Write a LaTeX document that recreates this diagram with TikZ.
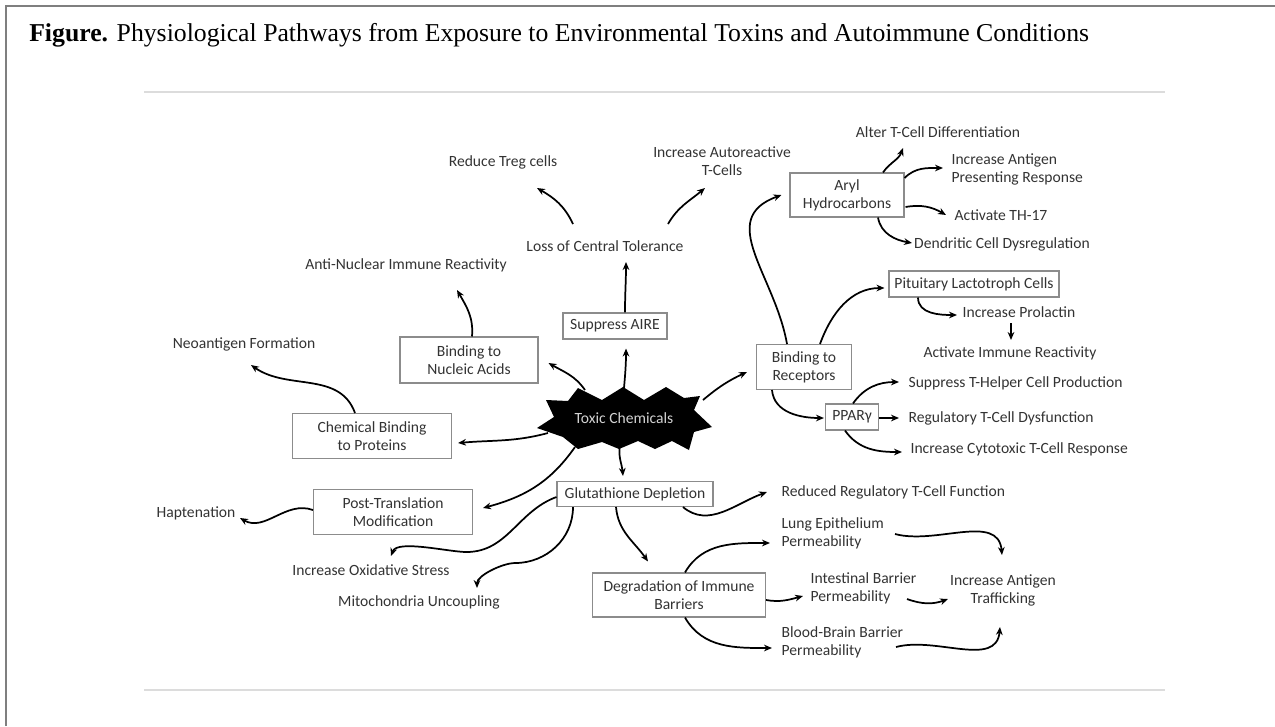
\documentclass[tikz,border=0pt]{standalone}
\usepackage{fontspec}
\setmainfont{Liberation Serif}
\newfontfamily\calib{Carlito}
\usetikzlibrary{arrows.meta,calc}
\definecolor{ink}{HTML}{333333}
\definecolor{edge}{HTML}{8C8C8C}
\definecolor{frame}{HTML}{7F7F7F}
\definecolor{rule}{HTML}{DCDCDC}
\definecolor{pale}{HTML}{D2D2D2}
\tikzset{px/.style={x=.75pt,y=-.75pt,font=\calib\fontsize{11.7}{13.5}\selectfont},
  box/.style 2 args={draw=edge,line width=.8pt,fill=white,text=ink,align=center,inner sep=0pt,
    minimum width=#1*.75pt,minimum height=#2*.75pt},
  lbl/.style={text=ink,inner sep=1pt,align=center},
  lft/.style={text=ink,inner sep=1pt,align=left,anchor=west},
  arr/.style={-{Stealth[length=6pt,width=5pt]},line width=1.3pt}}

\begin{document}
\begin{tikzpicture}[px]
  \useasboundingbox (0,0) rectangle (1275,726);
  \draw[frame,line width=2pt] (6,726)--(6,6)--(1275,6);
  \node[anchor=west,inner sep=0pt,font=\fontsize{19.3}{21}\selectfont] (title) at (29,35)
    {\textbf{Figure.} Physiological Pathways from Exposure to Environmental Toxins and Autoimmune Conditions};
  \draw[rule,line width=1.5pt] (144,91.5)--(1165,91.5) (144,689.5)--(1165,689.5);
  % toxic star
  \fill (578,388)--(602,400)--(623,387)--(644,400)--(666,387)--(684,398)--(700,396)--(694,410)
    --(712,427)--(694,432)--(689,450)--(672,441)--(655,449)--(638,441)--(619,449)--(602,442)
    --(578,449)--(563,437)--(537,428)--(554,417)--(546,400)--(568,401)--cycle;
  \node[text=pale,inner sep=1pt] (tox) at (624,418){Toxic Chemicals};
  % boxes
  \node[box={138}{46}] (nuc) at (469,360){Binding to\\Nucleic Acids};
  \node[box={159}{45}] (chem) at (372,436){Chemical Binding\\to Proteins};
  \node[box={159}{45}] (ptm) at (393,512){Post-Translation\\Modification};
  \node[box={104}{26}] (aire) at (615,326){Suppress AIRE};
  \node[box={156}{25}] (glut) at (635,494){Glutathione Depletion};
  \node[box={173}{44}] (degr) at (679,595){Degradation of Immune\\Barriers};
  \node[box={114}{44}] (aryl) at (847,195){Aryl\\Hydrocarbons};
  \node[box={95}{45}] (rcpt) at (804,367){Binding to\\Receptors};
  \node[box={170}{26}] (pit) at (974,284){Pituitary Lactotroph Cells};
  \node[box={53}{26}] (ppar) at (852,417){PPARγ};
  % outcomes
  \node[lbl] (treg) at (503,162){Reduce Treg cells};
  \node[lbl] (autot) at (722,161){Increase Autoreactive\\T-Cells};
  \node[lbl] (ltol) at (605,246){Loss of Central Tolerance};
  \node[lbl] (anuc) at (406,265){Anti-Nuclear Immune Reactivity};
  \node[lbl] (neo) at (244,344){Neoantigen Formation};
  \node[lbl] (hapt) at (196,513){Haptenation};
  \node[lbl] (oxid) at (371,570){Increase Oxidative Stress};
  \node[lbl] (mito) at (419,602){Mitochondria Uncoupling};
  \node[lbl] (alter) at (938,132){Alter T-Cell Differentiation};
  \node[lft] (apres) at (950,169){Increase Antigen\\Presenting Response};
  \node[lbl] (th17) at (1001,215){Activate TH-17};
  \node[lbl] (dend) at (1002,244){Dendritic Cell Dysregulation};
  \node[lbl] (prol) at (1019,312){Increase Prolactin};
  \node[lbl] (actimm) at (1010,353){Activate Immune Reactivity};
  \node[lft] (thelp) at (907,383){Suppress T-Helper Cell Production};
  \node[lft] (regdys) at (907,418){Regulatory T-Cell Dysfunction};
  \node[lft] (cytox) at (909,449){Increase Cytotoxic T-Cell Response};
  \node[lft] (redreg) at (780,492){Reduced Regulatory T-Cell Function};
  \node[lft] (lung) at (780,533){Lung Epithelium\\Permeability};
  \node[lft] (intest) at (809,588){Intestinal Barrier\\Permeability};
  \node[lft] (bbb) at (780,642){Blood-Brain Barrier\\Permeability};
  \node[lbl] (traff) at (1003,590){Increase Antigen\\Trafficking};
  % left and top branches
  \draw[arr] ($(tox)+(-39,-28)$) to[out=125,in=-30] ($(nuc.east)+(10,3)$);
  \draw[arr] ($(tox)+(0,-30)$) to[out=85,in=-90] ($(aire.south)+(11,9)$);
  \draw[arr] ($(aire.north)+(10,0)$) to[out=90,in=-90] ($(ltol)+(21,16)$);
  \draw[arr] ($(ltol)+(-32,-22)$) to[out=115,in=-30] ($(treg)+(34,26)$);
  \draw[arr] ($(ltol)+(63,-22)$) to[out=60,in=-140] ($(autot)+(-17,27)$);
  \draw[arr] ($(nuc.north)+(3,0)$) to[out=85,in=-60] ($(anuc)+(51,25)$);
  \draw[arr] ($(chem.north)+(-17,0)$) to[out=110,in=-35] ($(neo)+(7,21)$);
  \draw[arr] ($(tox)+(-76,15)$) to[out=195,in=5] ($(chem.east)+(6,7)$);
  \draw[arr] ($(tox)+(-49,29)$) to[out=235,in=15] ($(ptm.east)+(10,-4)$);
  \draw[arr] ($(ptm.west)+(0,-2)$) to[out=160,in=-30] ($(hapt)+(44,5)$);
  % glutathione branch
  \draw[arr] ($(tox)+(-4,27)$) to[out=-100,in=95] ($(glut.north)+(-12,-5)$);
  \draw[arr] ($(glut.west)+(0,3)$) to[out=200,in=0] ++(-90,55) to[out=180,in=70,looseness=.6] ($(oxid)+(20,-14)$);
  \draw[arr] ($(glut.south)+(-62,0)$) to[out=-90,in=0] ++(-58,56) to[out=180,in=90,looseness=.7] ($(mito)+(58,-14)$);
  \draw[arr] ($(glut.south)+(48,0)$) to[out=-40,in=200] ($(redreg.west)+(-13,0)$);
  \draw[arr] ($(glut.south)+(-19,0)$) to[out=-85,in=125] ($(degr.north)+(-31,-11)$);
  \draw[arr] ($(degr.north)+(6,0)$) to[out=60,in=180] ($(lung.west)+(-10,10)$);
  \draw[arr] ($(degr.east)+(0,5)$) to[out=-10,in=195] ($(intest.west)+(-6,8)$);
  \draw[arr] ($(degr.south)+(6,0)$) to[out=-60,in=180] ($(bbb.west)+(-8,6)$);
  \draw[arr] ($(lung.west)+(115,1)$) to[out=-15,in=95] ($(traff)+(-1,-35)$);
  \draw[arr] ($(intest.west)+(98,11)$) to[out=-20,in=200] ($(traff)+(-55,9)$);
  \draw[arr] ($(bbb.west)+(116,5)$) to[out=15,in=-95] ($(traff)+(-3,37)$);
  % receptor branch
  \draw[arr] ($(tox)+(79,-18)$) to[out=40,in=205] ($(rcpt.west)+(-9,5)$);
  \draw[arr] ($(rcpt.north)+(-17,0)$) to[out=100,in=200,looseness=1.2] ($(aryl.west)+(-8,0)$);
  \draw[arr] ($(rcpt.north)+(16,0)$) to[out=70,in=180] ($(pit.west)+(-4,4)$);
  \draw[arr] ($(rcpt.south)+(-32,0)$) to[out=-85,in=180] ($(ppar.west)+(-1,1)$);
  \draw[arr] ($(ppar.north)+(1,0)$) to[out=55,in=180] ($(thelp.west)+(-8,-1)$);
  \draw[arr] ($(ppar.east)+(0,1)$) -- ($(regdys.west)+(-8,0)$);
  \draw[arr] ($(ppar.south)+(-7,0)$) to[out=-55,in=180] ($(cytox.west)+(-7,3)$);
  \draw[arr] ($(aryl.north)+(36,0)$) to[out=55,in=-110] ($(alter)+(-35,16)$);
  \draw[arr] ($(aryl.east)+(0,-17)$) to[out=45,in=180] ($(apres.west)+(-7,-1)$);
  \draw[arr] ($(aryl.east)+(1,12)$) to[out=10,in=150] ($(th17)+(-55,0)$);
  \draw[arr] ($(aryl.south)+(31,0)$) to[out=-80,in=170] ($(dend)+(-90,-1)$);
  \draw[arr] ($(pit.south)+(-56,0)$) to[out=-90,in=180] ($(prol)+(-62,3)$);
  \draw[arr] ($(prol)+(-8,11)$) -- ($(actimm)+(1,-13)$);
\end{tikzpicture}
\end{document}
